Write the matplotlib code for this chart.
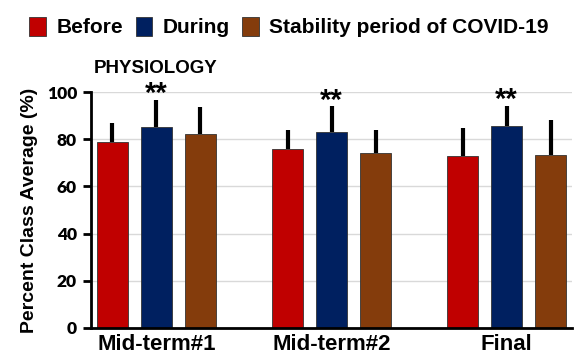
import matplotlib.pyplot as plt
import numpy as np

plt.rcParams['font.family'] = ['Liberation Sans', 'DejaVu Sans']
plt.rcParams['font.weight'] = 'bold'

groups = ['Mid-term#1', 'Mid-term#2', 'Final']
series = ['Before', 'During', 'Stability period of COVID-19']
before = [78.7, 75.8, 72.7]
during = [85.3, 83.2, 85.6]
stability = [82.3, 74.2, 73.1]
# upper error bar lengths
before_err = [8.0, 8.1, 12.2]
during_err = [11.3, 10.8, 8.6]
stability_err = [11.2, 9.7, 15.0]
stars = ['**', '**', '**']

colors = ['#C00000', '#002060', '#843C0C']

fig = plt.figure(figsize=(5.81, 3.6), dpi=100)
ax = fig.add_axes([0.1566, 0.0889, 0.828, 0.6555])

x = np.arange(len(groups))
step = 0.2514
width = 0.177
vals = [before, during, stability]
errs = [before_err, during_err, stability_err]
handles = []
for i, (v, e) in enumerate(zip(vals, errs)):
    pos = x + (i - 1) * step
    b = ax.bar(pos, v, width, color=colors[i], edgecolor='#333333', linewidth=0.6, zorder=2,
               label=series[i])
    ax.errorbar(pos, v, yerr=[np.zeros(len(e)), e], fmt='none', ecolor='black',
                elinewidth=3, capsize=0, zorder=3)
    handles.append(b)

for xi, v, e, s in zip(x, during, during_err, stars):
    ax.text(xi, v + e - 1.0, s, ha='center', va='baseline', fontsize=21, fontweight='bold',
            zorder=4)

ax.set_xlim(-0.374, 2.374)
ax.set_ylim(0, 100)
ax.set_yticks(range(0, 101, 20))
ax.set_xticks(x)
ax.set_xticklabels(groups, fontsize=16, fontweight='bold')
ax.tick_params(axis='x', length=0, pad=4)
ax.tick_params(axis='y', width=2, length=6, direction='out', pad=4)
for lab in ax.get_yticklabels():
    lab.set_fontfamily(['Lato', 'DejaVu Sans'])
    lab.set_fontweight('heavy')
    lab.set_fontsize(12.5)
ax.grid(axis='y', color='#D9D9D9', linewidth=1, zorder=0)
ax.set_axisbelow(True)
for sp in ['top', 'right']:
    ax.spines[sp].set_visible(False)
ax.spines['left'].set_linewidth(2)
ax.spines['bottom'].set_linewidth(2)
ax.set_ylabel('Percent Class Average (%)', fontsize=14, fontweight='bold', labelpad=6)

ax.text(0.005, 1.065, 'PHYSIOLOGY', transform=ax.transAxes, fontsize=13.5, fontweight='bold',
        ha='left', va='bottom')

fig.legend(handles=handles, loc='upper center', bbox_to_anchor=(0.4975, 1.005), ncol=3,
           frameon=False, handlelength=0.8, handleheight=1.0,
           handletextpad=0.5, columnspacing=0.6, prop={'weight': 'bold', 'size': 15})

fig.savefig('out.png', dpi=100)
